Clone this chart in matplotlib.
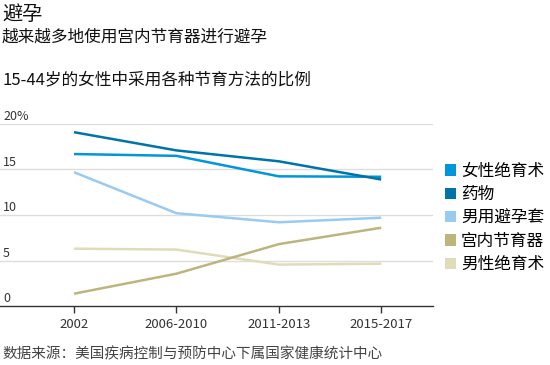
import matplotlib
matplotlib.use("Agg")
import matplotlib.pyplot as plt
from matplotlib.patches import Patch
import matplotlib.transforms as mtransforms

plt.rcParams['font.family'] = ['Noto Sans CJK SC', 'DejaVu Sans']

categories = ["2002", "2006-2010", "2011-2013", "2015-2017"]
series_names = ["女性绝育术", "药物", "男用避孕套", "宫内节育器", "男性绝育术"]
female_sterilization = [16.7, 16.5, 14.25, 14.2]
pill = [19.1, 17.1, 15.9, 13.9]
condom = [14.7, 10.2, 9.2, 9.7]
iud = [1.35, 3.55, 6.8, 8.6]
male_sterilization = [6.3, 6.2, 4.55, 4.65]
y_ticks = [0, 5, 10, 15, 20]
y_tick_labels = ["0", "5", "10", "15", "20%"]

series = [female_sterilization, pill, condom, iud, male_sterilization]
colors = ["#0096db", "#0073a8", "#98cbef", "#bdb57e", "#e0dcb9"]

W, H = 550, 365
fig = plt.figure(figsize=(W / 100, H / 100), dpi=100)
ax = fig.add_axes([0 / W, (H - 306) / H, 433 / W, 182 / H])

x = list(range(len(categories)))
order = [4, 3, 2, 0, 1]
for i in order:
    ax.plot(x, series[i], color=colors[i], lw=1.8, solid_capstyle='butt', zorder=3)

ax.set_xlim(-74 / 102.4, 359 / 102.4)
ax.set_ylim(0, 20)
ax.set_xticks(x)
ax.set_xticklabels(categories, fontsize=9.5, color="#333333")
ax.tick_params(axis='x', length=5, width=1, color="#333333", pad=4)
ax.set_yticks([])
for yt in y_ticks[1:]:
    ax.axhline(yt, color="#dddddd", lw=1, zorder=1)
trans = mtransforms.blended_transform_factory(ax.transAxes, ax.transData)
for yt, lab in zip(y_ticks, y_tick_labels):
    ax.text(3 / 433, yt + 0.1, lab, transform=trans, fontsize=9, color="#333333",
            ha='left', va='bottom')
for s in ['top', 'right', 'left']:
    ax.spines[s].set_visible(False)
ax.spines['bottom'].set_color("#333333")
ax.spines['bottom'].set_linewidth(1)
ax.patch.set_alpha(0)

handles = [Patch(facecolor=c, edgecolor='none') for c in colors]
fig.legend(handles, series_names, loc='center left',
           bbox_to_anchor=(445 / W, 1 - 218 / H), frameon=False,
           fontsize=12, handlelength=0.65, handleheight=0.65,
           handletextpad=0.3, labelspacing=0.38, borderpad=0, borderaxespad=0)

fig.text(2 / W, 1 - 14 / H, "避孕", fontsize=14.5, ha='left', va='center', color="#111111")
fig.text(2 / W, 1 - 37 / H, "越来越多地使用宫内节育器进行避孕", fontsize=12, ha='left', va='center', color="#111111")
fig.text(2 / W, 1 - 80 / H, "15-44岁的女性中采用各种节育方法的比例", fontsize=12, ha='left', va='center', color="#111111")
fig.text(2 / W, 1 - 354 / H, "数据来源：美国疾病控制与预防中心下属国家健康统计中心", fontsize=10.5, ha='left', va='center', color="#444444")

fig.savefig("out.png", dpi=100)
